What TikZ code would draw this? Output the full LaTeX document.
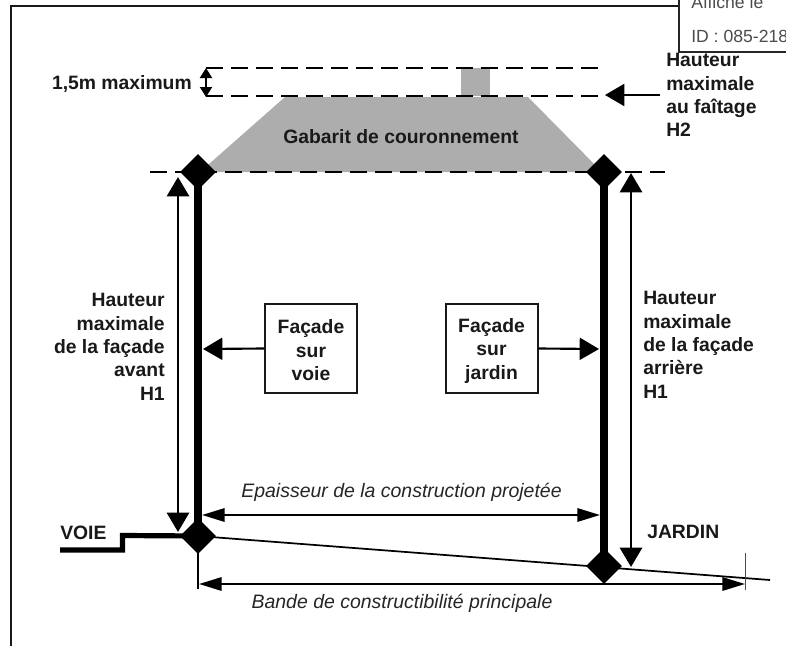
\documentclass[tikz,border=0pt]{standalone}
\usepackage{fontspec}
\setmainfont{Liberation Sans}
\usetikzlibrary{arrows.meta}
\tikzset{
  x=0.75pt,y=-0.75pt,
  lab/.style={font=\fontsize{14.5pt}{17.6pt}\selectfont\bfseries,align=left,inner sep=0pt,text=black!90},
  labc/.style={lab,align=center},
  ital/.style={font=\fontsize{14.6pt}{17pt}\selectfont\itshape,inner sep=0pt,text=black!85},
  dashline/.style={line width=1.5pt,dash pattern=on 12.75pt off 6pt},
  dimb/.style={line width=2.2pt,{Triangle[length=14.5pt,width=16.5pt]}-{Triangle[length=14.5pt,width=16.5pt]}},
  dimw/.style={line width=1.6pt,{Triangle[length=17pt,width=10pt]}-{Triangle[length=17pt,width=10pt]}},
  dim/.style={line width=1.6pt,-{Triangle[length=14.5pt,width=16.5pt]}},
  wall/.style={line width=6.2pt,black},
  losange/.style={fill=black,inner sep=0pt,shape=rectangle,minimum size=19pt,rotate=45},
  boxn/.style={draw=black!90,line width=1.5pt,labc,minimum width=69pt,minimum height=66.7pt},
  stamp/.style={inner sep=0pt,font=\fontsize{13.2pt}{16pt}\selectfont,text=black!70},
}
\begin{document}
\begin{tikzpicture}
\useasboundingbox (0,0) rectangle (786,646);
\fill[white] (0,0) rectangle (786,646);
% frame
\coordinate (fa) at (11,646);
\coordinate (fb) at (11,6);
\coordinate (fc) at (786,6);
\draw[line width=1.7pt,black!90] (fa) -- (fb) -- (fc);
% stamp
\fill[white] (679,0) rectangle (786,52);
\coordinate (sa) at (679,0);
\coordinate (sb) at (679,52);
\coordinate (sc) at (786,52);
\draw[line width=1.9pt,black!85] (sa) -- (sb) -- (sc);
\node[stamp,anchor=base west] (aff) at (691,8) {Affiché le};
\node[stamp,anchor=base west] (idt) at (691,42) {ID : 085-218};
% grey shapes
\fill[black!32] (285,97) -- (528,97) -- (602,172) -- (200,172) -- cycle;
\fill[black!32] (461,68) rectangle (490,96);
% dashes
\coordinate (d1a) at (206,68); \coordinate (d1b) at (600,68);
\coordinate (d2a) at (206,96); \coordinate (d2b) at (600,96);
\coordinate (d3a) at (150,172); \coordinate (d3b) at (665,172);
\draw[dashline] (d1a) -- (d1b);
\draw[dashline] (d2a) -- (d2b);
\draw[dashline] (d3a) -- (d3b);
% ground
\node[losange] (m1) at (198,172) {};
\node[losange] (m2) at (604,172) {};
\node[losange] (m3) at (198,536) {};
\node[losange] (m4) at (604,566) {};
\draw[wall] (m1.center) -- (m3.center);
\draw[wall] (m2.center) -- (m4.center);
\coordinate (g1) at (60,550); \coordinate (g2) at (122.5,550); \coordinate (g3) at (122.5,535.5);
\draw[line width=3.9pt,black] (g1) -- (g2) -- (g3) -- (m3.center);
\coordinate (slope) at (770,580);
\draw[line width=1.3pt] (m3.center) -- (slope);
\coordinate (t2) at (198,589);
\draw[line width=0.9pt] (m3.center) -- (t2);
\coordinate (t3) at (745,553); \coordinate (t4) at (745,590);
\draw[line width=0.7pt,black!70] (t3) -- (t4);
% dimension arrows
\coordinate (h1) at (178,177); \coordinate (h2) at (178,532);
\draw[dimb] (h1) -- (h2);
\coordinate (h3) at (631,173); \coordinate (h4) at (631,567);
\draw[dimb] (h3) -- (h4);
\coordinate (w1) at (202,515); \coordinate (w2) at (600,515);
\draw[dimw] (w1) -- (w2);
\coordinate (b1) at (199,584); \coordinate (b2) at (745,584);
\draw[dimw] (b1) -- (b2);
\coordinate (s1) at (206,68); \coordinate (s2) at (206,97);
\draw[line width=1.5pt,{Triangle[length=7.5pt,width=9pt]}-{Triangle[length=7.5pt,width=9pt]}] (s1) -- (s2);
% labels
\node[lab,anchor=east] (l15) at (192,84) {1,5m maximum};
\node[lab] (gab) at (401,137) {Gabarit de couronnement};
\node[lab,anchor=north west] (h2t) at (666,53) {Hauteur\\maximale\\au faîtage\\H2};
\coordinate (h2a) at (660,95); \coordinate (h2b) at (605,95);
\draw[dim] (h2a) -- (h2b);
\node[lab,align=right,anchor=north east] (h1l) at (165,293) {Hauteur\\maximale\\de la façade\\avant\\H1};
\node[lab,anchor=north west] (h1r) at (643,291) {Hauteur\\maximale\\de la façade\\arrière\\H1};
\node[boxn] (fv) at (311,348.5) {\rule{0pt}{13pt}Façade\\sur\\voie};
\node[boxn] (fj) at (491.5,348.5) {\rule{0pt}{14pt}Façade\\sur\\jardin};
\coordinate (av) at (203,349); \coordinate (aj) at (599,349);
\draw[dim] (fv.west) -- (av);
\draw[dim] (fj.east) -- (aj);
\node[ital] (ep) at (401.5,492) {Epaisseur de la construction projetée};
\node[ital] (ba) at (402,603) {Bande de constructibilité principale};
\node[lab,anchor=west] (vo) at (60,533) {VOIE};
\node[lab,anchor=west] (ja) at (647,532) {JARDIN};
\end{tikzpicture}
\end{document}
